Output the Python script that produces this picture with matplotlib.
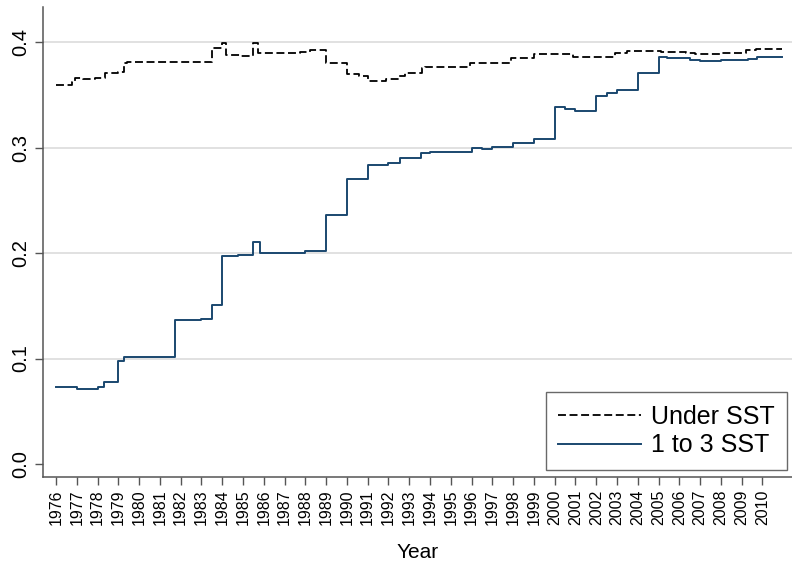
import matplotlib.pyplot as plt

plt.rcParams['font.family'] = ['Liberation Sans', 'DejaVu Sans']

# step series: year where each level starts, and its share
under_years = [1976.0, 1976.75, 1976.9, 1977.3, 1977.9, 1978.35, 1979.0, 1979.25, 1979.4,
               1983.5, 1983.97, 1984.2, 1984.9, 1985.5, 1985.74, 1987.75, 1988.2, 1989.0,
               1990.0, 1990.6, 1991.0, 1991.9, 1992.5, 1992.8, 1993.6, 1993.76, 1995.9,
               1996.4, 1996.9, 1997.9, 1999.0, 2000.9, 2002.9, 2003.5, 2005.1, 2006.3,
               2006.75, 2008.0, 2009.2, 2009.7, 2010.95]
under_vals = [0.359, 0.3625, 0.3656, 0.3646, 0.366, 0.371, 0.372, 0.380, 0.381,
              0.394, 0.399, 0.388, 0.387, 0.399, 0.390, 0.391, 0.392, 0.3805,
              0.370, 0.3678, 0.3635, 0.3646, 0.3678, 0.371, 0.375, 0.3766, 0.3798,
              0.3805, 0.380, 0.3845, 0.3885, 0.3855, 0.390, 0.3918, 0.391, 0.390,
              0.389, 0.390, 0.392, 0.393, 0.393]

sst_years = [1976.0, 1977.0, 1978.0, 1978.3, 1979.0, 1979.25, 1981.75, 1983.0, 1983.5,
             1984.0, 1984.75, 1985.5, 1985.8, 1987.0, 1988.0, 1989.0, 1990.0, 1991.0,
             1992.0, 1992.55, 1993.55, 1994.0, 1996.0, 1996.5, 1997.0, 1998.0, 1999.0,
             2000.0, 2000.5, 2001.0, 2002.0, 2002.5, 2003.0, 2004.0, 2005.0, 2005.4,
             2006.5, 2007.0, 2008.0, 2009.3, 2009.75, 2010.95]
sst_vals = [0.073, 0.0715, 0.073, 0.0775, 0.098, 0.101, 0.1365, 0.1375, 0.151,
            0.197, 0.198, 0.210, 0.1997, 0.2003, 0.202, 0.236, 0.270, 0.2835,
            0.2857, 0.2897, 0.295, 0.296, 0.2999, 0.2987, 0.3005, 0.3046, 0.308,
            0.338, 0.3365, 0.3345, 0.349, 0.3513, 0.3545, 0.371, 0.3855, 0.3845,
            0.3829, 0.3823, 0.383, 0.3837, 0.386, 0.386]

year_ticks = list(range(1976, 2011))
y_ticks = [0.0, 0.1, 0.2, 0.3, 0.4]
y_labels = ['0.0', '0.1', '0.2', '0.3', '0.4']

fig = plt.figure(figsize=(7.92, 5.63), dpi=100)
ax = fig.add_axes([43 / 792, 1 - 477 / 563, 749 / 792, 470 / 563])

for y in y_ticks[1:]:
    ax.axhline(y, color='#e1e1e1', lw=1.4, zorder=0)

ax.step(under_years, under_vals, where='post', color='black', lw=1.3,
        dashes=(4.4, 2.0), label='Under SST')
ax.step(sst_years, sst_vals, where='post', color='#1a476f', lw=1.4,
        label='1 to 3 SST')

ax.set_xlim(1975.374, 2011.42)
ax.set_ylim(-0.0123, 0.4332)

ax.set_xticks(year_ticks)
ax.set_xticklabels([str(y) for y in year_ticks], rotation=90, fontsize=11.5)
ax.set_yticks(y_ticks)
ax.set_yticklabels(y_labels, rotation=90, fontsize=14.5, va='center')
ax.tick_params(axis='both', color='#555555', width=1.0, length=6)
ax.tick_params(axis='x', pad=3)
ax.tick_params(axis='y', pad=3)

for side in ['top', 'right']:
    ax.spines[side].set_visible(False)
for side in ['left', 'bottom']:
    ax.spines[side].set_color('#555555')
    ax.spines[side].set_linewidth(1.1)

ax.set_xlabel('Year', fontsize=15, labelpad=13)

leg = ax.legend(loc='lower right', bbox_to_anchor=(787 / 792, 1 - 470 / 563),
                bbox_transform=fig.transFigure, borderaxespad=0, fontsize=18,
                frameon=True, fancybox=False, handlelength=3.3, handletextpad=0.4,
                labelspacing=0.2, borderpad=0.5)
leg.get_frame().set_edgecolor('#444444')
leg.get_frame().set_linewidth(1.0)

fig.savefig('out.png', dpi=100)
